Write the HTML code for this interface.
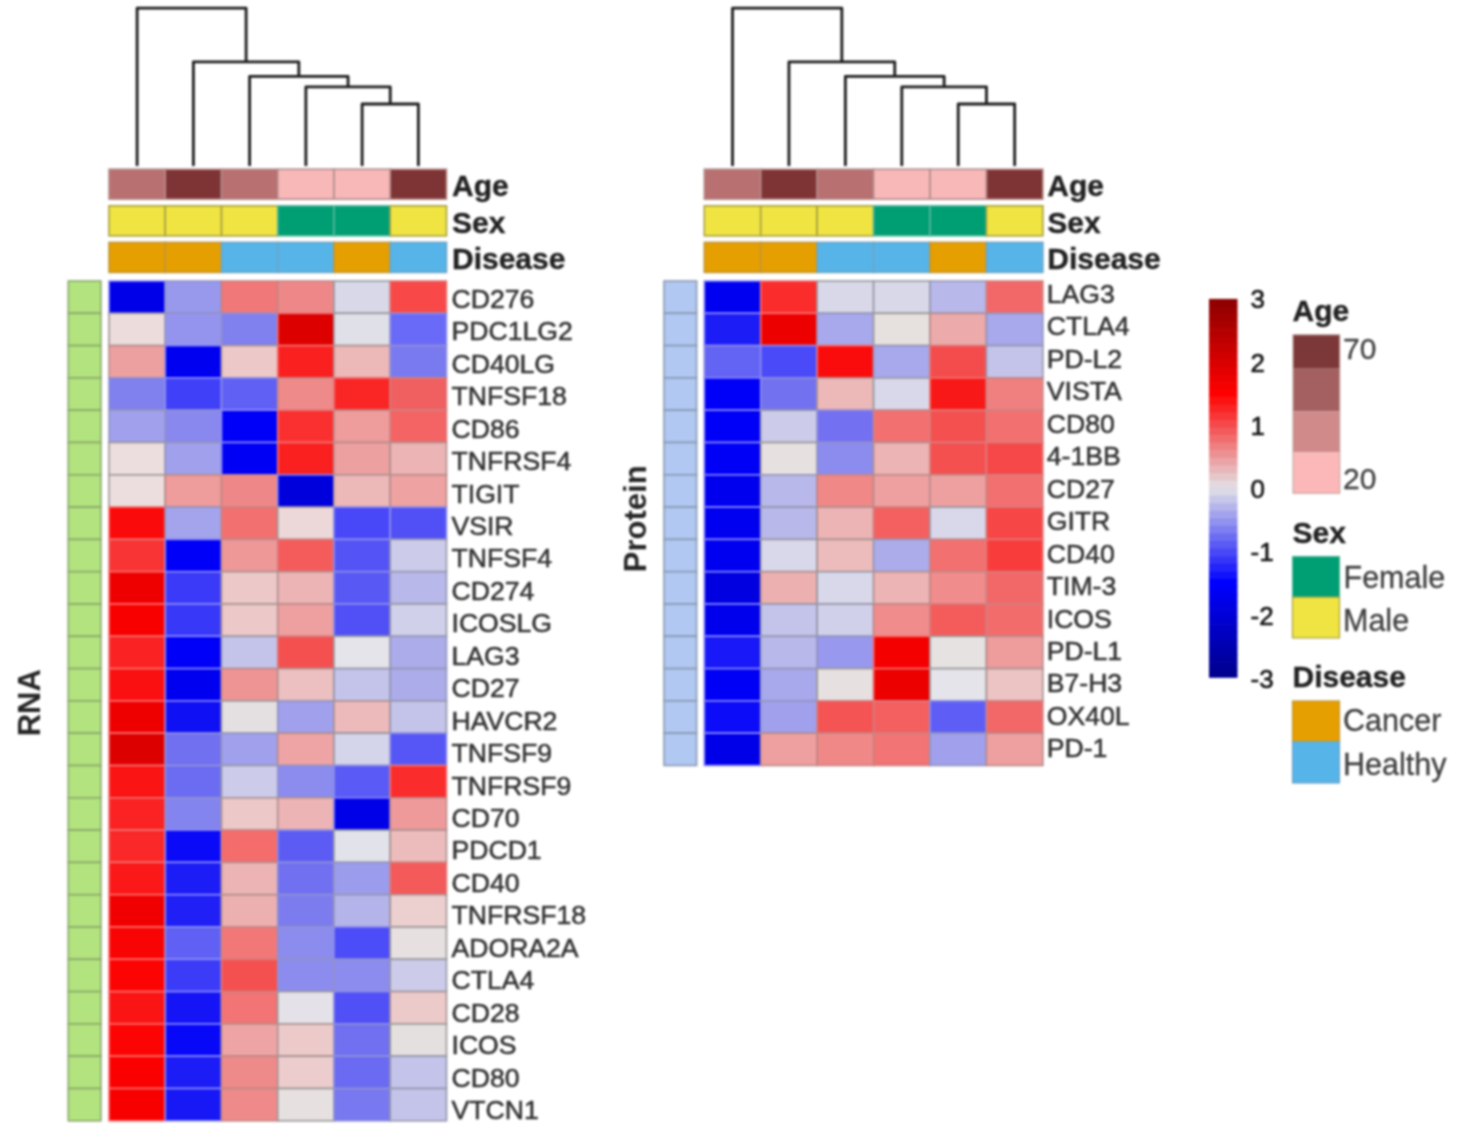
<!DOCTYPE html>
<html><head><meta charset="utf-8"><title>Heatmap</title>
<style>
html,body{margin:0;padding:0;background:#fff;}
body{width:1475px;height:1143px;overflow:hidden;}
svg{display:block;font-family:"Liberation Sans",Arial,sans-serif;filter:blur(0.8px);}
</style></head>
<body>
<svg width="1475" height="1143" viewBox="0 0 1475 1143">
<rect width="1475" height="1143" fill="#fff"/>
<path d="M362.12,166.00V104.00H418.38V166.00 M305.88,166.00V86.80H390.25V104.00 M249.62,166.00V76.40H348.06V86.80 M193.38,166.00V61.80H298.84V76.40 M137.12,166.00V8.20H246.11V61.80" fill="none" stroke="#1c1c1c" stroke-width="2.8" stroke-linejoin="round" stroke-linecap="butt"/>
<rect x="109.00" y="169.20" width="56.25" height="30.00" fill="#B87070" stroke="#b68b8b" stroke-width="1.6"/>
<rect x="165.25" y="169.20" width="56.25" height="30.00" fill="#7E3434" stroke="#b78b8b" stroke-width="1.6"/>
<rect x="221.50" y="169.20" width="56.25" height="30.00" fill="#B87070" stroke="#b68b8b" stroke-width="1.6"/>
<rect x="277.75" y="169.20" width="56.25" height="30.00" fill="#F8B8B8" stroke="#b38d8d" stroke-width="1.6"/>
<rect x="334.00" y="169.20" width="56.25" height="30.00" fill="#F8B8B8" stroke="#b38d8d" stroke-width="1.6"/>
<rect x="390.25" y="169.20" width="56.25" height="30.00" fill="#7E3434" stroke="#b78b8b" stroke-width="1.6"/>
<rect x="109.00" y="205.80" width="56.25" height="30.00" fill="#F0E442" stroke="#a8a140" stroke-width="1.6"/>
<rect x="165.25" y="205.80" width="56.25" height="30.00" fill="#F0E442" stroke="#a8a140" stroke-width="1.6"/>
<rect x="221.50" y="205.80" width="56.25" height="30.00" fill="#F0E442" stroke="#a8a140" stroke-width="1.6"/>
<rect x="277.75" y="205.80" width="56.25" height="30.00" fill="#009E73" stroke="#58b79d" stroke-width="1.6"/>
<rect x="334.00" y="205.80" width="56.25" height="30.00" fill="#009E73" stroke="#58b79d" stroke-width="1.6"/>
<rect x="390.25" y="205.80" width="56.25" height="30.00" fill="#F0E442" stroke="#a8a140" stroke-width="1.6"/>
<rect x="109.00" y="242.40" width="56.25" height="30.00" fill="#E69F00" stroke="#c19637" stroke-width="1.6"/>
<rect x="165.25" y="242.40" width="56.25" height="30.00" fill="#E69F00" stroke="#c19637" stroke-width="1.6"/>
<rect x="221.50" y="242.40" width="56.25" height="30.00" fill="#56B4E9" stroke="#6da5c5" stroke-width="1.6"/>
<rect x="277.75" y="242.40" width="56.25" height="30.00" fill="#56B4E9" stroke="#6da5c5" stroke-width="1.6"/>
<rect x="334.00" y="242.40" width="56.25" height="30.00" fill="#E69F00" stroke="#c19637" stroke-width="1.6"/>
<rect x="390.25" y="242.40" width="56.25" height="30.00" fill="#56B4E9" stroke="#6da5c5" stroke-width="1.6"/>
<text x="452.00" y="196.00" font-size="30" font-weight="bold" fill="#222" stroke="#222" stroke-width="0.35" >Age</text>
<text x="452.00" y="233.30" font-size="30" font-weight="bold" fill="#222" stroke="#222" stroke-width="0.35" >Sex</text>
<text x="452.00" y="269.00" font-size="30" font-weight="bold" fill="#222" stroke="#222" stroke-width="0.35" >Disease</text>
<rect x="68.30" y="281.00" width="32.60" height="32.30" fill="#B2E37E" stroke="#8aa86b" stroke-width="1.6"/>
<rect x="109.00" y="281.00" width="56.25" height="32.30" fill="#0000E8" stroke="#8888ff" stroke-width="1.6"/>
<rect x="165.25" y="281.00" width="56.25" height="32.30" fill="#9898EC" stroke="#9292c5" stroke-width="1.6"/>
<rect x="221.50" y="281.00" width="56.25" height="32.30" fill="#F07878" stroke="#ca8282" stroke-width="1.6"/>
<rect x="277.75" y="281.00" width="56.25" height="32.30" fill="#EE8888" stroke="#c38686" stroke-width="1.6"/>
<rect x="334.00" y="281.00" width="56.25" height="32.30" fill="#D8D8E8" stroke="#9797a1" stroke-width="1.6"/>
<rect x="390.25" y="281.00" width="56.25" height="32.30" fill="#F84848" stroke="#e27878" stroke-width="1.6"/>
<text x="451.50" y="307.80" font-size="26.6" fill="#333" stroke="#333" stroke-width="0.55" >CD276</text>
<rect x="68.30" y="313.30" width="32.60" height="32.30" fill="#B2E37E" stroke="#8aa86b" stroke-width="1.6"/>
<rect x="109.00" y="313.30" width="56.25" height="32.30" fill="#ECDCDC" stroke="#9f9595" stroke-width="1.6"/>
<rect x="165.25" y="313.30" width="56.25" height="32.30" fill="#9494EE" stroke="#9292c8" stroke-width="1.6"/>
<rect x="221.50" y="313.30" width="56.25" height="32.30" fill="#8080EE" stroke="#9090d2" stroke-width="1.6"/>
<rect x="277.75" y="313.30" width="56.25" height="32.30" fill="#DC0000" stroke="#f57171" stroke-width="1.6"/>
<rect x="334.00" y="313.30" width="56.25" height="32.30" fill="#E0E0E8" stroke="#97979c" stroke-width="1.6"/>
<rect x="390.25" y="313.30" width="56.25" height="32.30" fill="#6A6AF8" stroke="#8e8ee3" stroke-width="1.6"/>
<text x="451.50" y="340.25" font-size="26.6" fill="#333" stroke="#333" stroke-width="0.55" >PDC1LG2</text>
<rect x="68.30" y="345.60" width="32.60" height="32.30" fill="#B2E37E" stroke="#8aa86b" stroke-width="1.6"/>
<rect x="109.00" y="345.60" width="56.25" height="32.30" fill="#ECA0A0" stroke="#b88a8a" stroke-width="1.6"/>
<rect x="165.25" y="345.60" width="56.25" height="32.30" fill="#0000F0" stroke="#8888ff" stroke-width="1.6"/>
<rect x="221.50" y="345.60" width="56.25" height="32.30" fill="#ECC8C8" stroke="#a79292" stroke-width="1.6"/>
<rect x="277.75" y="345.60" width="56.25" height="32.30" fill="#FA2020" stroke="#f47171" stroke-width="1.6"/>
<rect x="334.00" y="345.60" width="56.25" height="32.30" fill="#ECB8B8" stroke="#ae8f8f" stroke-width="1.6"/>
<rect x="390.25" y="345.60" width="56.25" height="32.30" fill="#7A7AF0" stroke="#9090d7" stroke-width="1.6"/>
<text x="451.50" y="372.70" font-size="26.6" fill="#333" stroke="#333" stroke-width="0.55" >CD40LG</text>
<rect x="68.30" y="377.90" width="32.60" height="32.30" fill="#B2E37E" stroke="#8aa86b" stroke-width="1.6"/>
<rect x="109.00" y="377.90" width="56.25" height="32.30" fill="#8080EE" stroke="#9090d2" stroke-width="1.6"/>
<rect x="165.25" y="377.90" width="56.25" height="32.30" fill="#4040F8" stroke="#8b8bfa" stroke-width="1.6"/>
<rect x="221.50" y="377.90" width="56.25" height="32.30" fill="#6060F4" stroke="#8e8ee7" stroke-width="1.6"/>
<rect x="277.75" y="377.90" width="56.25" height="32.30" fill="#EE8A8A" stroke="#c28686" stroke-width="1.6"/>
<rect x="334.00" y="377.90" width="56.25" height="32.30" fill="#FA2626" stroke="#f17272" stroke-width="1.6"/>
<rect x="390.25" y="377.90" width="56.25" height="32.30" fill="#F06060" stroke="#d57e7e" stroke-width="1.6"/>
<text x="451.50" y="405.15" font-size="26.6" fill="#333" stroke="#333" stroke-width="0.55" >TNFSF18</text>
<rect x="68.30" y="410.20" width="32.60" height="32.30" fill="#B2E37E" stroke="#8aa86b" stroke-width="1.6"/>
<rect x="109.00" y="410.20" width="56.25" height="32.30" fill="#A0A0EC" stroke="#9393c0" stroke-width="1.6"/>
<rect x="165.25" y="410.20" width="56.25" height="32.30" fill="#8888EE" stroke="#9191ce" stroke-width="1.6"/>
<rect x="221.50" y="410.20" width="56.25" height="32.30" fill="#0000F8" stroke="#8787ff" stroke-width="1.6"/>
<rect x="277.75" y="410.20" width="56.25" height="32.30" fill="#FA3030" stroke="#ed7474" stroke-width="1.6"/>
<rect x="334.00" y="410.20" width="56.25" height="32.30" fill="#EE9C9C" stroke="#ba8989" stroke-width="1.6"/>
<rect x="390.25" y="410.20" width="56.25" height="32.30" fill="#F46464" stroke="#d57e7e" stroke-width="1.6"/>
<text x="451.50" y="437.60" font-size="26.6" fill="#333" stroke="#333" stroke-width="0.55" >CD86</text>
<rect x="68.30" y="442.50" width="32.60" height="32.30" fill="#B2E37E" stroke="#8aa86b" stroke-width="1.6"/>
<rect x="109.00" y="442.50" width="56.25" height="32.30" fill="#ECDEDE" stroke="#9e9595" stroke-width="1.6"/>
<rect x="165.25" y="442.50" width="56.25" height="32.30" fill="#A0A0EC" stroke="#9393c0" stroke-width="1.6"/>
<rect x="221.50" y="442.50" width="56.25" height="32.30" fill="#0000F4" stroke="#8787ff" stroke-width="1.6"/>
<rect x="277.75" y="442.50" width="56.25" height="32.30" fill="#FA2020" stroke="#f47171" stroke-width="1.6"/>
<rect x="334.00" y="442.50" width="56.25" height="32.30" fill="#ECA0A0" stroke="#b88a8a" stroke-width="1.6"/>
<rect x="390.25" y="442.50" width="56.25" height="32.30" fill="#ECB4B4" stroke="#b08e8e" stroke-width="1.6"/>
<text x="451.50" y="470.05" font-size="26.6" fill="#333" stroke="#333" stroke-width="0.55" >TNFRSF4</text>
<rect x="68.30" y="474.80" width="32.60" height="32.30" fill="#B2E37E" stroke="#8aa86b" stroke-width="1.6"/>
<rect x="109.00" y="474.80" width="56.25" height="32.30" fill="#ECDEDE" stroke="#9e9595" stroke-width="1.6"/>
<rect x="165.25" y="474.80" width="56.25" height="32.30" fill="#EE9C9C" stroke="#ba8989" stroke-width="1.6"/>
<rect x="221.50" y="474.80" width="56.25" height="32.30" fill="#EE8888" stroke="#c38686" stroke-width="1.6"/>
<rect x="277.75" y="474.80" width="56.25" height="32.30" fill="#0000DC" stroke="#8989ff" stroke-width="1.6"/>
<rect x="334.00" y="474.80" width="56.25" height="32.30" fill="#ECB8B8" stroke="#ae8f8f" stroke-width="1.6"/>
<rect x="390.25" y="474.80" width="56.25" height="32.30" fill="#EEA2A2" stroke="#b88a8a" stroke-width="1.6"/>
<text x="451.50" y="502.50" font-size="26.6" fill="#333" stroke="#333" stroke-width="0.55" >TIGIT</text>
<rect x="68.30" y="507.10" width="32.60" height="32.30" fill="#B2E37E" stroke="#8aa86b" stroke-width="1.6"/>
<rect x="109.00" y="507.10" width="56.25" height="32.30" fill="#FA0A0A" stroke="#fd6d6d" stroke-width="1.6"/>
<rect x="165.25" y="507.10" width="56.25" height="32.30" fill="#A4A4EC" stroke="#9393be" stroke-width="1.6"/>
<rect x="221.50" y="507.10" width="56.25" height="32.30" fill="#F27070" stroke="#cf8181" stroke-width="1.6"/>
<rect x="277.75" y="507.10" width="56.25" height="32.30" fill="#ECD8D8" stroke="#a09494" stroke-width="1.6"/>
<rect x="334.00" y="507.10" width="56.25" height="32.30" fill="#4848F8" stroke="#8c8cf6" stroke-width="1.6"/>
<rect x="390.25" y="507.10" width="56.25" height="32.30" fill="#5050F6" stroke="#8d8df0" stroke-width="1.6"/>
<text x="451.50" y="534.95" font-size="26.6" fill="#333" stroke="#333" stroke-width="0.55" >VSIR</text>
<rect x="68.30" y="539.40" width="32.60" height="32.30" fill="#B2E37E" stroke="#8aa86b" stroke-width="1.6"/>
<rect x="109.00" y="539.40" width="56.25" height="32.30" fill="#F83434" stroke="#ea7575" stroke-width="1.6"/>
<rect x="165.25" y="539.40" width="56.25" height="32.30" fill="#0000F8" stroke="#8787ff" stroke-width="1.6"/>
<rect x="221.50" y="539.40" width="56.25" height="32.30" fill="#EE9898" stroke="#bc8989" stroke-width="1.6"/>
<rect x="277.75" y="539.40" width="56.25" height="32.30" fill="#F45C5C" stroke="#d87d7d" stroke-width="1.6"/>
<rect x="334.00" y="539.40" width="56.25" height="32.30" fill="#5454F6" stroke="#8d8dee" stroke-width="1.6"/>
<rect x="390.25" y="539.40" width="56.25" height="32.30" fill="#CCCCEA" stroke="#9696a8" stroke-width="1.6"/>
<text x="451.50" y="567.40" font-size="26.6" fill="#333" stroke="#333" stroke-width="0.55" >TNFSF4</text>
<rect x="68.30" y="571.70" width="32.60" height="32.30" fill="#B2E37E" stroke="#8aa86b" stroke-width="1.6"/>
<rect x="109.00" y="571.70" width="56.25" height="32.30" fill="#EE0000" stroke="#fc6d6d" stroke-width="1.6"/>
<rect x="165.25" y="571.70" width="56.25" height="32.30" fill="#3A3AF8" stroke="#8b8bfd" stroke-width="1.6"/>
<rect x="221.50" y="571.70" width="56.25" height="32.30" fill="#ECC8C8" stroke="#a79292" stroke-width="1.6"/>
<rect x="277.75" y="571.70" width="56.25" height="32.30" fill="#ECB4B4" stroke="#b08e8e" stroke-width="1.6"/>
<rect x="334.00" y="571.70" width="56.25" height="32.30" fill="#5858F4" stroke="#8d8deb" stroke-width="1.6"/>
<rect x="390.25" y="571.70" width="56.25" height="32.30" fill="#B8B8EA" stroke="#9595b3" stroke-width="1.6"/>
<text x="451.50" y="599.85" font-size="26.6" fill="#333" stroke="#333" stroke-width="0.55" >CD274</text>
<rect x="68.30" y="604.00" width="32.60" height="32.30" fill="#B2E37E" stroke="#8aa86b" stroke-width="1.6"/>
<rect x="109.00" y="604.00" width="56.25" height="32.30" fill="#F80000" stroke="#ff6c6c" stroke-width="1.6"/>
<rect x="165.25" y="604.00" width="56.25" height="32.30" fill="#3838F8" stroke="#8b8bfe" stroke-width="1.6"/>
<rect x="221.50" y="604.00" width="56.25" height="32.30" fill="#ECC8C8" stroke="#a79292" stroke-width="1.6"/>
<rect x="277.75" y="604.00" width="56.25" height="32.30" fill="#EEA0A0" stroke="#b98a8a" stroke-width="1.6"/>
<rect x="334.00" y="604.00" width="56.25" height="32.30" fill="#5050F6" stroke="#8d8df0" stroke-width="1.6"/>
<rect x="390.25" y="604.00" width="56.25" height="32.30" fill="#D0D0EA" stroke="#9696a6" stroke-width="1.6"/>
<text x="451.50" y="632.30" font-size="26.6" fill="#333" stroke="#333" stroke-width="0.55" >ICOSLG</text>
<rect x="68.30" y="636.30" width="32.60" height="32.30" fill="#B2E37E" stroke="#8aa86b" stroke-width="1.6"/>
<rect x="109.00" y="636.30" width="56.25" height="32.30" fill="#FA2222" stroke="#f37171" stroke-width="1.6"/>
<rect x="165.25" y="636.30" width="56.25" height="32.30" fill="#0000F8" stroke="#8787ff" stroke-width="1.6"/>
<rect x="221.50" y="636.30" width="56.25" height="32.30" fill="#C4C4EA" stroke="#9595ac" stroke-width="1.6"/>
<rect x="277.75" y="636.30" width="56.25" height="32.30" fill="#F45050" stroke="#dd7b7b" stroke-width="1.6"/>
<rect x="334.00" y="636.30" width="56.25" height="32.30" fill="#E4E4EA" stroke="#98989b" stroke-width="1.6"/>
<rect x="390.25" y="636.30" width="56.25" height="32.30" fill="#ACACEA" stroke="#9494b9" stroke-width="1.6"/>
<text x="451.50" y="664.75" font-size="26.6" fill="#333" stroke="#333" stroke-width="0.55" >LAG3</text>
<rect x="68.30" y="668.60" width="32.60" height="32.30" fill="#B2E37E" stroke="#8aa86b" stroke-width="1.6"/>
<rect x="109.00" y="668.60" width="56.25" height="32.30" fill="#FA1010" stroke="#fa6e6e" stroke-width="1.6"/>
<rect x="165.25" y="668.60" width="56.25" height="32.30" fill="#0000F0" stroke="#8888ff" stroke-width="1.6"/>
<rect x="221.50" y="668.60" width="56.25" height="32.30" fill="#EE9494" stroke="#be8888" stroke-width="1.6"/>
<rect x="277.75" y="668.60" width="56.25" height="32.30" fill="#ECC0C0" stroke="#ab9090" stroke-width="1.6"/>
<rect x="334.00" y="668.60" width="56.25" height="32.30" fill="#C4C4EA" stroke="#9595ac" stroke-width="1.6"/>
<rect x="390.25" y="668.60" width="56.25" height="32.30" fill="#ACACEA" stroke="#9494b9" stroke-width="1.6"/>
<text x="451.50" y="697.20" font-size="26.6" fill="#333" stroke="#333" stroke-width="0.55" >CD27</text>
<rect x="68.30" y="700.90" width="32.60" height="32.30" fill="#B2E37E" stroke="#8aa86b" stroke-width="1.6"/>
<rect x="109.00" y="700.90" width="56.25" height="32.30" fill="#EE0000" stroke="#fc6d6d" stroke-width="1.6"/>
<rect x="165.25" y="700.90" width="56.25" height="32.30" fill="#1010F4" stroke="#8888ff" stroke-width="1.6"/>
<rect x="221.50" y="700.90" width="56.25" height="32.30" fill="#E4E0E2" stroke="#9a9798" stroke-width="1.6"/>
<rect x="277.75" y="700.90" width="56.25" height="32.30" fill="#A0A0EC" stroke="#9393c0" stroke-width="1.6"/>
<rect x="334.00" y="700.90" width="56.25" height="32.30" fill="#ECBABA" stroke="#ad8f8f" stroke-width="1.6"/>
<rect x="390.25" y="700.90" width="56.25" height="32.30" fill="#C4C4EA" stroke="#9595ac" stroke-width="1.6"/>
<text x="451.50" y="729.65" font-size="26.6" fill="#333" stroke="#333" stroke-width="0.55" >HAVCR2</text>
<rect x="68.30" y="733.20" width="32.60" height="32.30" fill="#B2E37E" stroke="#8aa86b" stroke-width="1.6"/>
<rect x="109.00" y="733.20" width="56.25" height="32.30" fill="#DC0000" stroke="#f57171" stroke-width="1.6"/>
<rect x="165.25" y="733.20" width="56.25" height="32.30" fill="#7070F0" stroke="#8f8fdc" stroke-width="1.6"/>
<rect x="221.50" y="733.20" width="56.25" height="32.30" fill="#A0A0EC" stroke="#9393c0" stroke-width="1.6"/>
<rect x="277.75" y="733.20" width="56.25" height="32.30" fill="#EEA4A4" stroke="#b78b8b" stroke-width="1.6"/>
<rect x="334.00" y="733.20" width="56.25" height="32.30" fill="#D4D4EA" stroke="#9696a4" stroke-width="1.6"/>
<rect x="390.25" y="733.20" width="56.25" height="32.30" fill="#5656F6" stroke="#8d8ded" stroke-width="1.6"/>
<text x="451.50" y="762.10" font-size="26.6" fill="#333" stroke="#333" stroke-width="0.55" >TNFSF9</text>
<rect x="68.30" y="765.50" width="32.60" height="32.30" fill="#B2E37E" stroke="#8aa86b" stroke-width="1.6"/>
<rect x="109.00" y="765.50" width="56.25" height="32.30" fill="#FA1414" stroke="#f96f6f" stroke-width="1.6"/>
<rect x="165.25" y="765.50" width="56.25" height="32.30" fill="#6C6CF2" stroke="#8f8fdf" stroke-width="1.6"/>
<rect x="221.50" y="765.50" width="56.25" height="32.30" fill="#CCCCEA" stroke="#9696a8" stroke-width="1.6"/>
<rect x="277.75" y="765.50" width="56.25" height="32.30" fill="#8C8CEE" stroke="#9191cc" stroke-width="1.6"/>
<rect x="334.00" y="765.50" width="56.25" height="32.30" fill="#5A5AF6" stroke="#8d8deb" stroke-width="1.6"/>
<rect x="390.25" y="765.50" width="56.25" height="32.30" fill="#FA2C2C" stroke="#ef7373" stroke-width="1.6"/>
<text x="451.50" y="794.55" font-size="26.6" fill="#333" stroke="#333" stroke-width="0.55" >TNFRSF9</text>
<rect x="68.30" y="797.80" width="32.60" height="32.30" fill="#B2E37E" stroke="#8aa86b" stroke-width="1.6"/>
<rect x="109.00" y="797.80" width="56.25" height="32.30" fill="#FA2222" stroke="#f37171" stroke-width="1.6"/>
<rect x="165.25" y="797.80" width="56.25" height="32.30" fill="#8484EE" stroke="#9191d0" stroke-width="1.6"/>
<rect x="221.50" y="797.80" width="56.25" height="32.30" fill="#ECC8C8" stroke="#a79292" stroke-width="1.6"/>
<rect x="277.75" y="797.80" width="56.25" height="32.30" fill="#ECB4B4" stroke="#b08e8e" stroke-width="1.6"/>
<rect x="334.00" y="797.80" width="56.25" height="32.30" fill="#0000E8" stroke="#8888ff" stroke-width="1.6"/>
<rect x="390.25" y="797.80" width="56.25" height="32.30" fill="#EE9A9A" stroke="#bb8989" stroke-width="1.6"/>
<text x="451.50" y="827.00" font-size="26.6" fill="#333" stroke="#333" stroke-width="0.55" >CD70</text>
<rect x="68.30" y="830.10" width="32.60" height="32.30" fill="#B2E37E" stroke="#8aa86b" stroke-width="1.6"/>
<rect x="109.00" y="830.10" width="56.25" height="32.30" fill="#FA2828" stroke="#f07272" stroke-width="1.6"/>
<rect x="165.25" y="830.10" width="56.25" height="32.30" fill="#0A0AF8" stroke="#8888ff" stroke-width="1.6"/>
<rect x="221.50" y="830.10" width="56.25" height="32.30" fill="#F46C6C" stroke="#d18080" stroke-width="1.6"/>
<rect x="277.75" y="830.10" width="56.25" height="32.30" fill="#5C5CF4" stroke="#8e8ee9" stroke-width="1.6"/>
<rect x="334.00" y="830.10" width="56.25" height="32.30" fill="#E2E2EA" stroke="#97979c" stroke-width="1.6"/>
<rect x="390.25" y="830.10" width="56.25" height="32.30" fill="#ECBCBC" stroke="#ac8f8f" stroke-width="1.6"/>
<text x="451.50" y="859.45" font-size="26.6" fill="#333" stroke="#333" stroke-width="0.55" >PDCD1</text>
<rect x="68.30" y="862.40" width="32.60" height="32.30" fill="#B2E37E" stroke="#8aa86b" stroke-width="1.6"/>
<rect x="109.00" y="862.40" width="56.25" height="32.30" fill="#FA1818" stroke="#f76f6f" stroke-width="1.6"/>
<rect x="165.25" y="862.40" width="56.25" height="32.30" fill="#1C1CF6" stroke="#8989ff" stroke-width="1.6"/>
<rect x="221.50" y="862.40" width="56.25" height="32.30" fill="#ECB4B4" stroke="#b08e8e" stroke-width="1.6"/>
<rect x="277.75" y="862.40" width="56.25" height="32.30" fill="#7070F0" stroke="#8f8fdc" stroke-width="1.6"/>
<rect x="334.00" y="862.40" width="56.25" height="32.30" fill="#9C9CEC" stroke="#9393c3" stroke-width="1.6"/>
<rect x="390.25" y="862.40" width="56.25" height="32.30" fill="#F45A5A" stroke="#d97c7c" stroke-width="1.6"/>
<text x="451.50" y="891.90" font-size="26.6" fill="#333" stroke="#333" stroke-width="0.55" >CD40</text>
<rect x="68.30" y="894.70" width="32.60" height="32.30" fill="#B2E37E" stroke="#8aa86b" stroke-width="1.6"/>
<rect x="109.00" y="894.70" width="56.25" height="32.30" fill="#F00000" stroke="#fd6d6d" stroke-width="1.6"/>
<rect x="165.25" y="894.70" width="56.25" height="32.30" fill="#2020F6" stroke="#8989ff" stroke-width="1.6"/>
<rect x="221.50" y="894.70" width="56.25" height="32.30" fill="#ECB0B0" stroke="#b18d8d" stroke-width="1.6"/>
<rect x="277.75" y="894.70" width="56.25" height="32.30" fill="#7C7CEE" stroke="#9090d5" stroke-width="1.6"/>
<rect x="334.00" y="894.70" width="56.25" height="32.30" fill="#B4B4EA" stroke="#9494b5" stroke-width="1.6"/>
<rect x="390.25" y="894.70" width="56.25" height="32.30" fill="#ECD0D0" stroke="#a49393" stroke-width="1.6"/>
<text x="451.50" y="924.35" font-size="26.6" fill="#333" stroke="#333" stroke-width="0.55" >TNFRSF18</text>
<rect x="68.30" y="927.00" width="32.60" height="32.30" fill="#B2E37E" stroke="#8aa86b" stroke-width="1.6"/>
<rect x="109.00" y="927.00" width="56.25" height="32.30" fill="#F80404" stroke="#ff6c6c" stroke-width="1.6"/>
<rect x="165.25" y="927.00" width="56.25" height="32.30" fill="#6060F4" stroke="#8e8ee7" stroke-width="1.6"/>
<rect x="221.50" y="927.00" width="56.25" height="32.30" fill="#F27878" stroke="#cb8282" stroke-width="1.6"/>
<rect x="277.75" y="927.00" width="56.25" height="32.30" fill="#8C8CEE" stroke="#9191cc" stroke-width="1.6"/>
<rect x="334.00" y="927.00" width="56.25" height="32.30" fill="#4C4CF8" stroke="#8c8cf3" stroke-width="1.6"/>
<rect x="390.25" y="927.00" width="56.25" height="32.30" fill="#E6E0E0" stroke="#9b9797" stroke-width="1.6"/>
<text x="451.50" y="956.80" font-size="26.6" fill="#333" stroke="#333" stroke-width="0.55" >ADORA2A</text>
<rect x="68.30" y="959.30" width="32.60" height="32.30" fill="#B2E37E" stroke="#8aa86b" stroke-width="1.6"/>
<rect x="109.00" y="959.30" width="56.25" height="32.30" fill="#FC0404" stroke="#ff6c6c" stroke-width="1.6"/>
<rect x="165.25" y="959.30" width="56.25" height="32.30" fill="#3C3CF8" stroke="#8b8bfc" stroke-width="1.6"/>
<rect x="221.50" y="959.30" width="56.25" height="32.30" fill="#F45050" stroke="#dd7b7b" stroke-width="1.6"/>
<rect x="277.75" y="959.30" width="56.25" height="32.30" fill="#8C8CEE" stroke="#9191cc" stroke-width="1.6"/>
<rect x="334.00" y="959.30" width="56.25" height="32.30" fill="#8C8CEE" stroke="#9191cc" stroke-width="1.6"/>
<rect x="390.25" y="959.30" width="56.25" height="32.30" fill="#CCCCEA" stroke="#9696a8" stroke-width="1.6"/>
<text x="451.50" y="989.25" font-size="26.6" fill="#333" stroke="#333" stroke-width="0.55" >CTLA4</text>
<rect x="68.30" y="991.60" width="32.60" height="32.30" fill="#B2E37E" stroke="#8aa86b" stroke-width="1.6"/>
<rect x="109.00" y="991.60" width="56.25" height="32.30" fill="#FA1414" stroke="#f96f6f" stroke-width="1.6"/>
<rect x="165.25" y="991.60" width="56.25" height="32.30" fill="#1414F6" stroke="#8989ff" stroke-width="1.6"/>
<rect x="221.50" y="991.60" width="56.25" height="32.30" fill="#F27474" stroke="#cd8181" stroke-width="1.6"/>
<rect x="277.75" y="991.60" width="56.25" height="32.30" fill="#E4E2E8" stroke="#98979b" stroke-width="1.6"/>
<rect x="334.00" y="991.60" width="56.25" height="32.30" fill="#5050F6" stroke="#8d8df0" stroke-width="1.6"/>
<rect x="390.25" y="991.60" width="56.25" height="32.30" fill="#ECCACA" stroke="#a69292" stroke-width="1.6"/>
<text x="451.50" y="1021.70" font-size="26.6" fill="#333" stroke="#333" stroke-width="0.55" >CD28</text>
<rect x="68.30" y="1023.90" width="32.60" height="32.30" fill="#B2E37E" stroke="#8aa86b" stroke-width="1.6"/>
<rect x="109.00" y="1023.90" width="56.25" height="32.30" fill="#FC0404" stroke="#ff6c6c" stroke-width="1.6"/>
<rect x="165.25" y="1023.90" width="56.25" height="32.30" fill="#0808F8" stroke="#8888ff" stroke-width="1.6"/>
<rect x="221.50" y="1023.90" width="56.25" height="32.30" fill="#EEA4A4" stroke="#b78b8b" stroke-width="1.6"/>
<rect x="277.75" y="1023.90" width="56.25" height="32.30" fill="#ECCACA" stroke="#a69292" stroke-width="1.6"/>
<rect x="334.00" y="1023.90" width="56.25" height="32.30" fill="#7070F0" stroke="#8f8fdc" stroke-width="1.6"/>
<rect x="390.25" y="1023.90" width="56.25" height="32.30" fill="#E4E0E0" stroke="#9a9797" stroke-width="1.6"/>
<text x="451.50" y="1054.15" font-size="26.6" fill="#333" stroke="#333" stroke-width="0.55" >ICOS</text>
<rect x="68.30" y="1056.20" width="32.60" height="32.30" fill="#B2E37E" stroke="#8aa86b" stroke-width="1.6"/>
<rect x="109.00" y="1056.20" width="56.25" height="32.30" fill="#FA0000" stroke="#ff6b6b" stroke-width="1.6"/>
<rect x="165.25" y="1056.20" width="56.25" height="32.30" fill="#1C1CF6" stroke="#8989ff" stroke-width="1.6"/>
<rect x="221.50" y="1056.20" width="56.25" height="32.30" fill="#EE8A8A" stroke="#c28686" stroke-width="1.6"/>
<rect x="277.75" y="1056.20" width="56.25" height="32.30" fill="#ECCCCC" stroke="#a59292" stroke-width="1.6"/>
<rect x="334.00" y="1056.20" width="56.25" height="32.30" fill="#6A6AF2" stroke="#8f8fe0" stroke-width="1.6"/>
<rect x="390.25" y="1056.20" width="56.25" height="32.30" fill="#C4C4EA" stroke="#9595ac" stroke-width="1.6"/>
<text x="451.50" y="1086.60" font-size="26.6" fill="#333" stroke="#333" stroke-width="0.55" >CD80</text>
<rect x="68.30" y="1088.50" width="32.60" height="32.30" fill="#B2E37E" stroke="#8aa86b" stroke-width="1.6"/>
<rect x="109.00" y="1088.50" width="56.25" height="32.30" fill="#F80000" stroke="#ff6c6c" stroke-width="1.6"/>
<rect x="165.25" y="1088.50" width="56.25" height="32.30" fill="#1818F6" stroke="#8989ff" stroke-width="1.6"/>
<rect x="221.50" y="1088.50" width="56.25" height="32.30" fill="#EE8A8A" stroke="#c28686" stroke-width="1.6"/>
<rect x="277.75" y="1088.50" width="56.25" height="32.30" fill="#E6E0E0" stroke="#9b9797" stroke-width="1.6"/>
<rect x="334.00" y="1088.50" width="56.25" height="32.30" fill="#7878F0" stroke="#9090d8" stroke-width="1.6"/>
<rect x="390.25" y="1088.50" width="56.25" height="32.30" fill="#C4C4EA" stroke="#9595ac" stroke-width="1.6"/>
<text x="451.50" y="1119.05" font-size="26.6" fill="#333" stroke="#333" stroke-width="0.55" >VTCN1</text>
<text x="0" y="0" font-size="31" font-weight="bold" fill="#262626" text-anchor="middle" transform="translate(40.0,702.7) rotate(-90)">RNA</text>
<path d="M958.23,166.00V104.00H1014.66V166.00 M901.80,166.00V86.80H986.45V104.00 M845.38,166.00V76.40H944.13V86.80 M788.94,166.00V61.80H894.75V76.40 M732.51,166.00V8.20H841.85V61.80" fill="none" stroke="#1c1c1c" stroke-width="2.8" stroke-linejoin="round" stroke-linecap="butt"/>
<rect x="704.30" y="169.20" width="56.43" height="30.00" fill="#B87070" stroke="#b68b8b" stroke-width="1.6"/>
<rect x="760.73" y="169.20" width="56.43" height="30.00" fill="#7E3434" stroke="#b78b8b" stroke-width="1.6"/>
<rect x="817.16" y="169.20" width="56.43" height="30.00" fill="#B87070" stroke="#b68b8b" stroke-width="1.6"/>
<rect x="873.59" y="169.20" width="56.43" height="30.00" fill="#F8B8B8" stroke="#b38d8d" stroke-width="1.6"/>
<rect x="930.02" y="169.20" width="56.43" height="30.00" fill="#F8B8B8" stroke="#b38d8d" stroke-width="1.6"/>
<rect x="986.45" y="169.20" width="56.43" height="30.00" fill="#7E3434" stroke="#b78b8b" stroke-width="1.6"/>
<rect x="704.30" y="205.80" width="56.43" height="30.00" fill="#F0E442" stroke="#a8a140" stroke-width="1.6"/>
<rect x="760.73" y="205.80" width="56.43" height="30.00" fill="#F0E442" stroke="#a8a140" stroke-width="1.6"/>
<rect x="817.16" y="205.80" width="56.43" height="30.00" fill="#F0E442" stroke="#a8a140" stroke-width="1.6"/>
<rect x="873.59" y="205.80" width="56.43" height="30.00" fill="#009E73" stroke="#58b79d" stroke-width="1.6"/>
<rect x="930.02" y="205.80" width="56.43" height="30.00" fill="#009E73" stroke="#58b79d" stroke-width="1.6"/>
<rect x="986.45" y="205.80" width="56.43" height="30.00" fill="#F0E442" stroke="#a8a140" stroke-width="1.6"/>
<rect x="704.30" y="242.40" width="56.43" height="30.00" fill="#E69F00" stroke="#c19637" stroke-width="1.6"/>
<rect x="760.73" y="242.40" width="56.43" height="30.00" fill="#E69F00" stroke="#c19637" stroke-width="1.6"/>
<rect x="817.16" y="242.40" width="56.43" height="30.00" fill="#56B4E9" stroke="#6da5c5" stroke-width="1.6"/>
<rect x="873.59" y="242.40" width="56.43" height="30.00" fill="#56B4E9" stroke="#6da5c5" stroke-width="1.6"/>
<rect x="930.02" y="242.40" width="56.43" height="30.00" fill="#E69F00" stroke="#c19637" stroke-width="1.6"/>
<rect x="986.45" y="242.40" width="56.43" height="30.00" fill="#56B4E9" stroke="#6da5c5" stroke-width="1.6"/>
<text x="1047.28" y="196.00" font-size="30" font-weight="bold" fill="#222" stroke="#222" stroke-width="0.35" >Age</text>
<text x="1047.28" y="233.30" font-size="30" font-weight="bold" fill="#222" stroke="#222" stroke-width="0.35" >Sex</text>
<text x="1047.28" y="269.00" font-size="30" font-weight="bold" fill="#222" stroke="#222" stroke-width="0.35" >Disease</text>
<rect x="664.00" y="281.00" width="32.60" height="32.30" fill="#B0C8F2" stroke="#8b99b3" stroke-width="1.6"/>
<rect x="704.30" y="281.00" width="56.43" height="32.30" fill="#0000F0" stroke="#8888ff" stroke-width="1.6"/>
<rect x="760.73" y="281.00" width="56.43" height="32.30" fill="#FA2C2C" stroke="#ef7373" stroke-width="1.6"/>
<rect x="817.16" y="281.00" width="56.43" height="32.30" fill="#D8D8E8" stroke="#9797a1" stroke-width="1.6"/>
<rect x="873.59" y="281.00" width="56.43" height="32.30" fill="#D8D8E8" stroke="#9797a1" stroke-width="1.6"/>
<rect x="930.02" y="281.00" width="56.43" height="32.30" fill="#B8B8EA" stroke="#9595b3" stroke-width="1.6"/>
<rect x="986.45" y="281.00" width="56.43" height="32.30" fill="#F26868" stroke="#d27f7f" stroke-width="1.6"/>
<text x="1046.78" y="303.00" font-size="26.6" fill="#333" stroke="#333" stroke-width="0.55" >LAG3</text>
<rect x="664.00" y="313.30" width="32.60" height="32.30" fill="#B0C8F2" stroke="#8b99b3" stroke-width="1.6"/>
<rect x="704.30" y="313.30" width="56.43" height="32.30" fill="#1C1CF6" stroke="#8989ff" stroke-width="1.6"/>
<rect x="760.73" y="313.30" width="56.43" height="32.30" fill="#EC0000" stroke="#fb6e6e" stroke-width="1.6"/>
<rect x="817.16" y="313.30" width="56.43" height="32.30" fill="#A8A8EC" stroke="#9393bc" stroke-width="1.6"/>
<rect x="873.59" y="313.30" width="56.43" height="32.30" fill="#E6E0DE" stroke="#9b9796" stroke-width="1.6"/>
<rect x="930.02" y="313.30" width="56.43" height="32.30" fill="#ECAAAA" stroke="#b48c8c" stroke-width="1.6"/>
<rect x="986.45" y="313.30" width="56.43" height="32.30" fill="#A8A8EC" stroke="#9393bc" stroke-width="1.6"/>
<text x="1046.78" y="335.45" font-size="26.6" fill="#333" stroke="#333" stroke-width="0.55" >CTLA4</text>
<rect x="664.00" y="345.60" width="32.60" height="32.30" fill="#B0C8F2" stroke="#8b99b3" stroke-width="1.6"/>
<rect x="704.30" y="345.60" width="56.43" height="32.30" fill="#6464F4" stroke="#8e8ee5" stroke-width="1.6"/>
<rect x="760.73" y="345.60" width="56.43" height="32.30" fill="#4A4AF8" stroke="#8c8cf4" stroke-width="1.6"/>
<rect x="817.16" y="345.60" width="56.43" height="32.30" fill="#FA0C0C" stroke="#fc6d6d" stroke-width="1.6"/>
<rect x="873.59" y="345.60" width="56.43" height="32.30" fill="#A8A8EC" stroke="#9393bc" stroke-width="1.6"/>
<rect x="930.02" y="345.60" width="56.43" height="32.30" fill="#F44C4C" stroke="#df7a7a" stroke-width="1.6"/>
<rect x="986.45" y="345.60" width="56.43" height="32.30" fill="#C4C4EA" stroke="#9595ac" stroke-width="1.6"/>
<text x="1046.78" y="367.90" font-size="26.6" fill="#333" stroke="#333" stroke-width="0.55" >PD-L2</text>
<rect x="664.00" y="377.90" width="32.60" height="32.30" fill="#B0C8F2" stroke="#8b99b3" stroke-width="1.6"/>
<rect x="704.30" y="377.90" width="56.43" height="32.30" fill="#0000F8" stroke="#8787ff" stroke-width="1.6"/>
<rect x="760.73" y="377.90" width="56.43" height="32.30" fill="#7272F0" stroke="#8f8fdb" stroke-width="1.6"/>
<rect x="817.16" y="377.90" width="56.43" height="32.30" fill="#ECB8B8" stroke="#ae8f8f" stroke-width="1.6"/>
<rect x="873.59" y="377.90" width="56.43" height="32.30" fill="#D8D8EA" stroke="#9797a2" stroke-width="1.6"/>
<rect x="930.02" y="377.90" width="56.43" height="32.30" fill="#F81818" stroke="#f67070" stroke-width="1.6"/>
<rect x="986.45" y="377.90" width="56.43" height="32.30" fill="#F08080" stroke="#c78484" stroke-width="1.6"/>
<text x="1046.78" y="400.35" font-size="26.6" fill="#333" stroke="#333" stroke-width="0.55" >VISTA</text>
<rect x="664.00" y="410.20" width="32.60" height="32.30" fill="#B0C8F2" stroke="#8b99b3" stroke-width="1.6"/>
<rect x="704.30" y="410.20" width="56.43" height="32.30" fill="#0000F8" stroke="#8787ff" stroke-width="1.6"/>
<rect x="760.73" y="410.20" width="56.43" height="32.30" fill="#CCCCEA" stroke="#9696a8" stroke-width="1.6"/>
<rect x="817.16" y="410.20" width="56.43" height="32.30" fill="#7470F2" stroke="#918edc" stroke-width="1.6"/>
<rect x="873.59" y="410.20" width="56.43" height="32.30" fill="#F27070" stroke="#cf8181" stroke-width="1.6"/>
<rect x="930.02" y="410.20" width="56.43" height="32.30" fill="#F45050" stroke="#dd7b7b" stroke-width="1.6"/>
<rect x="986.45" y="410.20" width="56.43" height="32.30" fill="#F27070" stroke="#cf8181" stroke-width="1.6"/>
<text x="1046.78" y="432.80" font-size="26.6" fill="#333" stroke="#333" stroke-width="0.55" >CD80</text>
<rect x="664.00" y="442.50" width="32.60" height="32.30" fill="#B0C8F2" stroke="#8b99b3" stroke-width="1.6"/>
<rect x="704.30" y="442.50" width="56.43" height="32.30" fill="#0000F6" stroke="#8787ff" stroke-width="1.6"/>
<rect x="760.73" y="442.50" width="56.43" height="32.30" fill="#E6E0E0" stroke="#9b9797" stroke-width="1.6"/>
<rect x="817.16" y="442.50" width="56.43" height="32.30" fill="#8C8CEE" stroke="#9191cc" stroke-width="1.6"/>
<rect x="873.59" y="442.50" width="56.43" height="32.30" fill="#ECB4B4" stroke="#b08e8e" stroke-width="1.6"/>
<rect x="930.02" y="442.50" width="56.43" height="32.30" fill="#F45050" stroke="#dd7b7b" stroke-width="1.6"/>
<rect x="986.45" y="442.50" width="56.43" height="32.30" fill="#F64848" stroke="#e17979" stroke-width="1.6"/>
<text x="1046.78" y="465.25" font-size="26.6" fill="#333" stroke="#333" stroke-width="0.55" >4-1BB</text>
<rect x="664.00" y="474.80" width="32.60" height="32.30" fill="#B0C8F2" stroke="#8b99b3" stroke-width="1.6"/>
<rect x="704.30" y="474.80" width="56.43" height="32.30" fill="#0000EE" stroke="#8888ff" stroke-width="1.6"/>
<rect x="760.73" y="474.80" width="56.43" height="32.30" fill="#B8B8EA" stroke="#9595b3" stroke-width="1.6"/>
<rect x="817.16" y="474.80" width="56.43" height="32.30" fill="#F08888" stroke="#c48585" stroke-width="1.6"/>
<rect x="873.59" y="474.80" width="56.43" height="32.30" fill="#EEA0A0" stroke="#b98a8a" stroke-width="1.6"/>
<rect x="930.02" y="474.80" width="56.43" height="32.30" fill="#EEA0A0" stroke="#b98a8a" stroke-width="1.6"/>
<rect x="986.45" y="474.80" width="56.43" height="32.30" fill="#F27070" stroke="#cf8181" stroke-width="1.6"/>
<text x="1046.78" y="497.70" font-size="26.6" fill="#333" stroke="#333" stroke-width="0.55" >CD27</text>
<rect x="664.00" y="507.10" width="32.60" height="32.30" fill="#B0C8F2" stroke="#8b99b3" stroke-width="1.6"/>
<rect x="704.30" y="507.10" width="56.43" height="32.30" fill="#0000F0" stroke="#8888ff" stroke-width="1.6"/>
<rect x="760.73" y="507.10" width="56.43" height="32.30" fill="#B8B8EA" stroke="#9595b3" stroke-width="1.6"/>
<rect x="817.16" y="507.10" width="56.43" height="32.30" fill="#ECB4B4" stroke="#b08e8e" stroke-width="1.6"/>
<rect x="873.59" y="507.10" width="56.43" height="32.30" fill="#F46060" stroke="#d67d7d" stroke-width="1.6"/>
<rect x="930.02" y="507.10" width="56.43" height="32.30" fill="#D8D8EA" stroke="#9797a2" stroke-width="1.6"/>
<rect x="986.45" y="507.10" width="56.43" height="32.30" fill="#F64646" stroke="#e27878" stroke-width="1.6"/>
<text x="1046.78" y="530.15" font-size="26.6" fill="#333" stroke="#333" stroke-width="0.55" >GITR</text>
<rect x="664.00" y="539.40" width="32.60" height="32.30" fill="#B0C8F2" stroke="#8b99b3" stroke-width="1.6"/>
<rect x="704.30" y="539.40" width="56.43" height="32.30" fill="#0000F0" stroke="#8888ff" stroke-width="1.6"/>
<rect x="760.73" y="539.40" width="56.43" height="32.30" fill="#D8D8EA" stroke="#9797a2" stroke-width="1.6"/>
<rect x="817.16" y="539.40" width="56.43" height="32.30" fill="#ECBCBC" stroke="#ac8f8f" stroke-width="1.6"/>
<rect x="873.59" y="539.40" width="56.43" height="32.30" fill="#ACACEA" stroke="#9494b9" stroke-width="1.6"/>
<rect x="930.02" y="539.40" width="56.43" height="32.30" fill="#F27070" stroke="#cf8181" stroke-width="1.6"/>
<rect x="986.45" y="539.40" width="56.43" height="32.30" fill="#F83C3C" stroke="#e77676" stroke-width="1.6"/>
<text x="1046.78" y="562.60" font-size="26.6" fill="#333" stroke="#333" stroke-width="0.55" >CD40</text>
<rect x="664.00" y="571.70" width="32.60" height="32.30" fill="#B0C8F2" stroke="#8b99b3" stroke-width="1.6"/>
<rect x="704.30" y="571.70" width="56.43" height="32.30" fill="#0000E0" stroke="#8989ff" stroke-width="1.6"/>
<rect x="760.73" y="571.70" width="56.43" height="32.30" fill="#ECB0B0" stroke="#b18d8d" stroke-width="1.6"/>
<rect x="817.16" y="571.70" width="56.43" height="32.30" fill="#D8D8EA" stroke="#9797a2" stroke-width="1.6"/>
<rect x="873.59" y="571.70" width="56.43" height="32.30" fill="#ECB4B4" stroke="#b08e8e" stroke-width="1.6"/>
<rect x="930.02" y="571.70" width="56.43" height="32.30" fill="#F08C8C" stroke="#c28686" stroke-width="1.6"/>
<rect x="986.45" y="571.70" width="56.43" height="32.30" fill="#F26868" stroke="#d27f7f" stroke-width="1.6"/>
<text x="1046.78" y="595.05" font-size="26.6" fill="#333" stroke="#333" stroke-width="0.55" >TIM-3</text>
<rect x="664.00" y="604.00" width="32.60" height="32.30" fill="#B0C8F2" stroke="#8b99b3" stroke-width="1.6"/>
<rect x="704.30" y="604.00" width="56.43" height="32.30" fill="#0000EC" stroke="#8888ff" stroke-width="1.6"/>
<rect x="760.73" y="604.00" width="56.43" height="32.30" fill="#C4C4EA" stroke="#9595ac" stroke-width="1.6"/>
<rect x="817.16" y="604.00" width="56.43" height="32.30" fill="#D0D0EA" stroke="#9696a6" stroke-width="1.6"/>
<rect x="873.59" y="604.00" width="56.43" height="32.30" fill="#F08C8C" stroke="#c28686" stroke-width="1.6"/>
<rect x="930.02" y="604.00" width="56.43" height="32.30" fill="#F45C5C" stroke="#d87d7d" stroke-width="1.6"/>
<rect x="986.45" y="604.00" width="56.43" height="32.30" fill="#F26C6C" stroke="#d08080" stroke-width="1.6"/>
<text x="1046.78" y="627.50" font-size="26.6" fill="#333" stroke="#333" stroke-width="0.55" >ICOS</text>
<rect x="664.00" y="636.30" width="32.60" height="32.30" fill="#B0C8F2" stroke="#8b99b3" stroke-width="1.6"/>
<rect x="704.30" y="636.30" width="56.43" height="32.30" fill="#1818F8" stroke="#8989ff" stroke-width="1.6"/>
<rect x="760.73" y="636.30" width="56.43" height="32.30" fill="#B8B8EA" stroke="#9595b3" stroke-width="1.6"/>
<rect x="817.16" y="636.30" width="56.43" height="32.30" fill="#9898EE" stroke="#9292c6" stroke-width="1.6"/>
<rect x="873.59" y="636.30" width="56.43" height="32.30" fill="#F40000" stroke="#ff6c6c" stroke-width="1.6"/>
<rect x="930.02" y="636.30" width="56.43" height="32.30" fill="#E6E2E2" stroke="#9a9797" stroke-width="1.6"/>
<rect x="986.45" y="636.30" width="56.43" height="32.30" fill="#EE9C9C" stroke="#ba8989" stroke-width="1.6"/>
<text x="1046.78" y="659.95" font-size="26.6" fill="#333" stroke="#333" stroke-width="0.55" >PD-L1</text>
<rect x="664.00" y="668.60" width="32.60" height="32.30" fill="#B0C8F2" stroke="#8b99b3" stroke-width="1.6"/>
<rect x="704.30" y="668.60" width="56.43" height="32.30" fill="#0000F6" stroke="#8787ff" stroke-width="1.6"/>
<rect x="760.73" y="668.60" width="56.43" height="32.30" fill="#A8A8EC" stroke="#9393bc" stroke-width="1.6"/>
<rect x="817.16" y="668.60" width="56.43" height="32.30" fill="#E6E0E0" stroke="#9b9797" stroke-width="1.6"/>
<rect x="873.59" y="668.60" width="56.43" height="32.30" fill="#EC0000" stroke="#fb6e6e" stroke-width="1.6"/>
<rect x="930.02" y="668.60" width="56.43" height="32.30" fill="#E4E4EA" stroke="#98989b" stroke-width="1.6"/>
<rect x="986.45" y="668.60" width="56.43" height="32.30" fill="#ECC4C4" stroke="#a99191" stroke-width="1.6"/>
<text x="1046.78" y="692.40" font-size="26.6" fill="#333" stroke="#333" stroke-width="0.55" >B7-H3</text>
<rect x="664.00" y="700.90" width="32.60" height="32.30" fill="#B0C8F2" stroke="#8b99b3" stroke-width="1.6"/>
<rect x="704.30" y="700.90" width="56.43" height="32.30" fill="#0C0CF8" stroke="#8888ff" stroke-width="1.6"/>
<rect x="760.73" y="700.90" width="56.43" height="32.30" fill="#A0A0EC" stroke="#9393c0" stroke-width="1.6"/>
<rect x="817.16" y="700.90" width="56.43" height="32.30" fill="#F45454" stroke="#db7b7b" stroke-width="1.6"/>
<rect x="873.59" y="700.90" width="56.43" height="32.30" fill="#F46060" stroke="#d67d7d" stroke-width="1.6"/>
<rect x="930.02" y="700.90" width="56.43" height="32.30" fill="#5E5EF6" stroke="#8e8ee9" stroke-width="1.6"/>
<rect x="986.45" y="700.90" width="56.43" height="32.30" fill="#F26868" stroke="#d27f7f" stroke-width="1.6"/>
<text x="1046.78" y="724.85" font-size="26.6" fill="#333" stroke="#333" stroke-width="0.55" >OX40L</text>
<rect x="664.00" y="733.20" width="32.60" height="32.30" fill="#B0C8F2" stroke="#8b99b3" stroke-width="1.6"/>
<rect x="704.30" y="733.20" width="56.43" height="32.30" fill="#0000E8" stroke="#8888ff" stroke-width="1.6"/>
<rect x="760.73" y="733.20" width="56.43" height="32.30" fill="#EEA0A0" stroke="#b98a8a" stroke-width="1.6"/>
<rect x="817.16" y="733.20" width="56.43" height="32.30" fill="#F08888" stroke="#c48585" stroke-width="1.6"/>
<rect x="873.59" y="733.20" width="56.43" height="32.30" fill="#F27474" stroke="#cd8181" stroke-width="1.6"/>
<rect x="930.02" y="733.20" width="56.43" height="32.30" fill="#A0A0EC" stroke="#9393c0" stroke-width="1.6"/>
<rect x="986.45" y="733.20" width="56.43" height="32.30" fill="#EEA0A0" stroke="#b98a8a" stroke-width="1.6"/>
<text x="1046.78" y="757.30" font-size="26.6" fill="#333" stroke="#333" stroke-width="0.55" >PD-1</text>
<text x="0" y="0" font-size="31" font-weight="bold" fill="#262626" text-anchor="middle" transform="translate(645.5,518.8) rotate(-90)">Protein</text>
<rect x="1209.0" y="298.90" width="28.5" height="8.17" fill="rgb(144, 0, 0)"/>
<rect x="1209.0" y="306.47" width="28.5" height="8.17" fill="rgb(153, 0, 0)"/>
<rect x="1209.0" y="314.03" width="28.5" height="8.17" fill="rgb(162, 0, 0)"/>
<rect x="1209.0" y="321.60" width="28.5" height="8.17" fill="rgb(171, 0, 0)"/>
<rect x="1209.0" y="329.16" width="28.5" height="8.17" fill="rgb(181, 0, 0)"/>
<rect x="1209.0" y="336.73" width="28.5" height="8.17" fill="rgb(190, 0, 0)"/>
<rect x="1209.0" y="344.30" width="28.5" height="8.17" fill="rgb(199, 0, 0)"/>
<rect x="1209.0" y="351.86" width="28.5" height="8.17" fill="rgb(209, 0, 0)"/>
<rect x="1209.0" y="359.43" width="28.5" height="8.17" fill="rgb(218, 0, 0)"/>
<rect x="1209.0" y="366.99" width="28.5" height="8.17" fill="rgb(227, 0, 0)"/>
<rect x="1209.0" y="374.56" width="28.5" height="8.17" fill="rgb(236, 0, 0)"/>
<rect x="1209.0" y="382.13" width="28.5" height="8.17" fill="rgb(246, 0, 0)"/>
<rect x="1209.0" y="389.69" width="28.5" height="8.17" fill="rgb(255, 0, 0)"/>
<rect x="1209.0" y="397.26" width="28.5" height="8.17" fill="rgb(253, 18, 18)"/>
<rect x="1209.0" y="404.82" width="28.5" height="8.17" fill="rgb(250, 36, 37)"/>
<rect x="1209.0" y="412.39" width="28.5" height="8.17" fill="rgb(248, 54, 55)"/>
<rect x="1209.0" y="419.96" width="28.5" height="8.17" fill="rgb(246, 72, 74)"/>
<rect x="1209.0" y="427.52" width="28.5" height="8.17" fill="rgb(243, 90, 92)"/>
<rect x="1209.0" y="435.09" width="28.5" height="8.17" fill="rgb(241, 108, 110)"/>
<rect x="1209.0" y="442.65" width="28.5" height="8.17" fill="rgb(239, 127, 129)"/>
<rect x="1209.0" y="450.22" width="28.5" height="8.17" fill="rgb(236, 145, 147)"/>
<rect x="1209.0" y="457.79" width="28.5" height="8.17" fill="rgb(234, 163, 166)"/>
<rect x="1209.0" y="465.35" width="28.5" height="8.17" fill="rgb(232, 181, 184)"/>
<rect x="1209.0" y="472.92" width="28.5" height="8.17" fill="rgb(229, 199, 202)"/>
<rect x="1209.0" y="480.48" width="28.5" height="8.17" fill="rgb(227, 217, 221)"/>
<rect x="1209.0" y="488.05" width="28.5" height="8.17" fill="rgb(217, 217, 231)"/>
<rect x="1209.0" y="495.62" width="28.5" height="8.17" fill="rgb(199, 199, 233)"/>
<rect x="1209.0" y="503.18" width="28.5" height="8.17" fill="rgb(181, 181, 235)"/>
<rect x="1209.0" y="510.75" width="28.5" height="8.17" fill="rgb(163, 163, 237)"/>
<rect x="1209.0" y="518.31" width="28.5" height="8.17" fill="rgb(145, 145, 239)"/>
<rect x="1209.0" y="525.88" width="28.5" height="8.17" fill="rgb(127, 127, 241)"/>
<rect x="1209.0" y="533.45" width="28.5" height="8.17" fill="rgb(108, 108, 243)"/>
<rect x="1209.0" y="541.01" width="28.5" height="8.17" fill="rgb(90, 90, 245)"/>
<rect x="1209.0" y="548.58" width="28.5" height="8.17" fill="rgb(72, 72, 247)"/>
<rect x="1209.0" y="556.14" width="28.5" height="8.17" fill="rgb(54, 54, 249)"/>
<rect x="1209.0" y="563.71" width="28.5" height="8.17" fill="rgb(36, 36, 251)"/>
<rect x="1209.0" y="571.28" width="28.5" height="8.17" fill="rgb(18, 18, 253)"/>
<rect x="1209.0" y="578.84" width="28.5" height="8.17" fill="rgb(0, 0, 255)"/>
<rect x="1209.0" y="586.41" width="28.5" height="8.17" fill="rgb(0, 0, 246)"/>
<rect x="1209.0" y="593.97" width="28.5" height="8.17" fill="rgb(0, 0, 236)"/>
<rect x="1209.0" y="601.54" width="28.5" height="8.17" fill="rgb(0, 0, 227)"/>
<rect x="1209.0" y="609.11" width="28.5" height="8.17" fill="rgb(0, 0, 218)"/>
<rect x="1209.0" y="616.67" width="28.5" height="8.17" fill="rgb(0, 0, 209)"/>
<rect x="1209.0" y="624.24" width="28.5" height="8.17" fill="rgb(0, 0, 199)"/>
<rect x="1209.0" y="631.80" width="28.5" height="8.17" fill="rgb(0, 0, 190)"/>
<rect x="1209.0" y="639.37" width="28.5" height="8.17" fill="rgb(0, 0, 181)"/>
<rect x="1209.0" y="646.94" width="28.5" height="8.17" fill="rgb(0, 0, 171)"/>
<rect x="1209.0" y="654.50" width="28.5" height="8.17" fill="rgb(0, 0, 162)"/>
<rect x="1209.0" y="662.07" width="28.5" height="8.17" fill="rgb(0, 0, 153)"/>
<rect x="1209.0" y="669.63" width="28.5" height="8.17" fill="rgb(0, 0, 144)"/>
<text x="1250.50" y="308.20" font-size="26" fill="#151515" stroke="#151515" stroke-width="0.6" >3</text>
<text x="1250.50" y="371.50" font-size="26" fill="#151515" stroke="#151515" stroke-width="0.6" >2</text>
<text x="1250.50" y="434.80" font-size="26" fill="#151515" stroke="#151515" stroke-width="0.6" >1</text>
<text x="1250.50" y="498.10" font-size="26" fill="#151515" stroke="#151515" stroke-width="0.6" >0</text>
<text x="1250.50" y="561.40" font-size="26" fill="#151515" stroke="#151515" stroke-width="0.6" >-1</text>
<text x="1250.50" y="624.70" font-size="26" fill="#151515" stroke="#151515" stroke-width="0.6" >-2</text>
<text x="1250.50" y="688.00" font-size="26" fill="#151515" stroke="#151515" stroke-width="0.6" >-3</text>
<text x="1292.50" y="320.50" font-size="30" font-weight="bold" fill="#222" stroke="#222" stroke-width="0.35" >Age</text>
<rect x="1293" y="334.8" width="46.8" height="33.9" fill="#7C3838"/>
<rect x="1293" y="368.7" width="46.8" height="42.7" fill="#A46060"/>
<rect x="1293" y="411.4" width="46.8" height="41.0" fill="#D08A8A"/>
<rect x="1293" y="452.4" width="46.8" height="40.9" fill="#FCB8B8"/>
<rect x="1293" y="334.8" width="46.8" height="158.5" fill="none" stroke="#c0a0a0" stroke-width="1"/>
<text x="1343.00" y="359.30" font-size="30" fill="#404040" stroke="#404040" stroke-width="0.3" >70</text>
<text x="1343.00" y="489.00" font-size="30" fill="#404040" stroke="#404040" stroke-width="0.3" >20</text>
<text x="1292.50" y="543.30" font-size="30" font-weight="bold" fill="#222" stroke="#222" stroke-width="0.35" >Sex</text>
<rect x="1292.50" y="556.50" width="47.00" height="40.70" fill="#009E73" stroke="#58b79d" stroke-width="1.2"/>
<rect x="1292.50" y="597.20" width="47.00" height="40.70" fill="#F0E442" stroke="#a8a140" stroke-width="1.2"/>
<text x="1343.50" y="588.00" font-size="30.5" fill="#404040" stroke="#404040" stroke-width="0.3" >Female</text>
<text x="1343.00" y="631.30" font-size="30.5" fill="#404040" stroke="#404040" stroke-width="0.3" >Male</text>
<text x="1292.50" y="686.50" font-size="30" font-weight="bold" fill="#222" stroke="#222" stroke-width="0.35" >Disease</text>
<rect x="1292.50" y="701.00" width="47.00" height="40.70" fill="#E69F00" stroke="#c19637" stroke-width="1.2"/>
<rect x="1292.50" y="741.70" width="47.00" height="41.30" fill="#56B4E9" stroke="#6da5c5" stroke-width="1.2"/>
<text x="1343.00" y="731.00" font-size="30.5" fill="#404040" stroke="#404040" stroke-width="0.3" >Cancer</text>
<text x="1343.00" y="775.00" font-size="30.5" fill="#404040" stroke="#404040" stroke-width="0.3" >Healthy</text>
</svg>
</body></html>
